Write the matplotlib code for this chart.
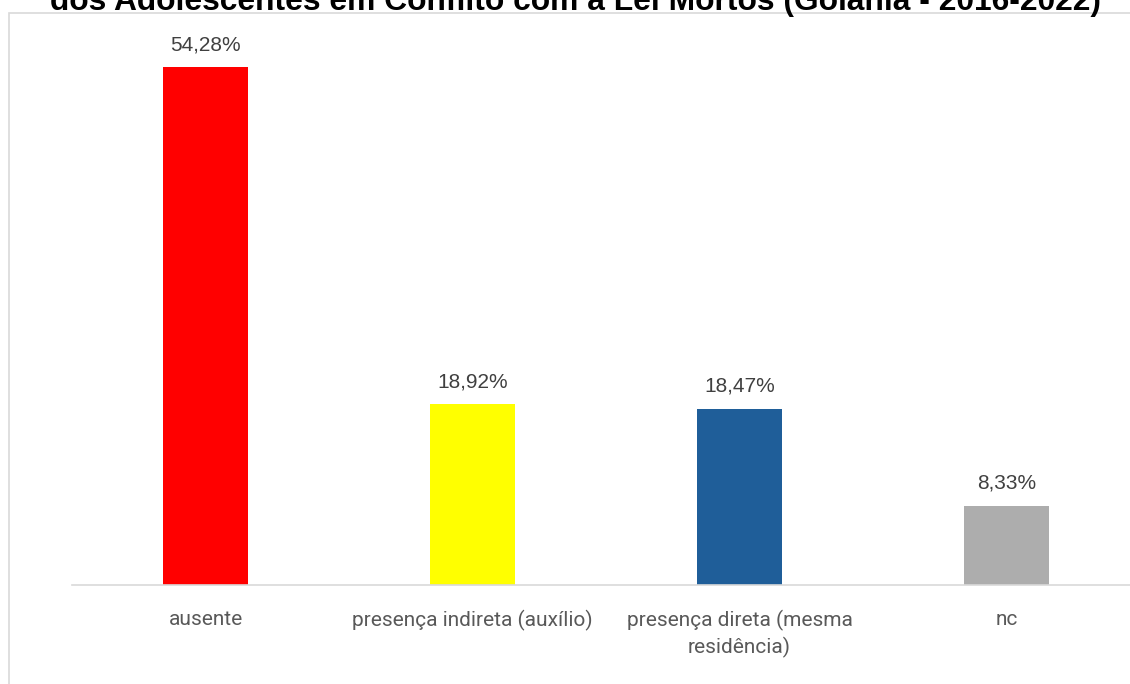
import matplotlib
matplotlib.use("Agg")
import matplotlib.pyplot as plt
from matplotlib.patches import Rectangle

categories = ["ausente", "presença indireta (auxílio)", "presença direta (mesma\nresidência)", "nc"]
values = [54.28, 18.92, 18.47, 8.33]
labels = ["54,28%", "18,92%", "18,47%", "8,33%"]
colors = ["#FF0000", "#FFFF00", "#1F5E99", "#ADADAD"]
title = "dos Adolescentes em Conflito com a Lei Mortos (Goiânia - 2016-2022)"

W, H = 1130, 684
fig = plt.figure(figsize=(W / 100, H / 100), dpi=100)
fig.patch.set_facecolor("white")

# chart frame (light gray border)
fig.patches.append(Rectangle((9 / W, -0.1), 1.2, 1 - 13 / H + 0.1, transform=fig.transFigure,
                             fill=False, edgecolor="#D9D9D9", linewidth=1.2, zorder=0))

ax = fig.add_axes([72 / W, 1 - 585 / H, 1068 / W, (585 - 40) / H])
x = range(len(categories))
ax.bar(x, values, width=0.315, color=colors, zorder=2)
ax.set_xlim(-0.5, len(categories) - 0.5)
ax.set_ylim(0, 57.11)

for i, (v, lab) in enumerate(zip(values, labels)):
    ax.annotate(lab, (i, v), xytext=(0, 12.2), textcoords="offset points",
                ha="center", va="baseline", fontsize=15, color="#404040",
                family="Liberation Sans")

ax.set_xticks(list(x))
ax.set_xticklabels(categories, fontsize=15, color="#595959", family="Roboto", linespacing=1.35)
ax.tick_params(axis="x", length=0, pad=18)
ax.set_yticks([])
for s in ["top", "right", "left"]:
    ax.spines[s].set_visible(False)
ax.spines["bottom"].set_color("#D9D9D9")
ax.spines["bottom"].set_linewidth(1.2)

# title line is partly cut off at the top edge, as in the source image
fig.text(575.5 / W, 1 - 10 / H, title, ha="center", va="baseline", fontsize=22.9,
         fontweight="bold", family="Liberation Sans", color="black")

fig.savefig("out.png", dpi=100)
